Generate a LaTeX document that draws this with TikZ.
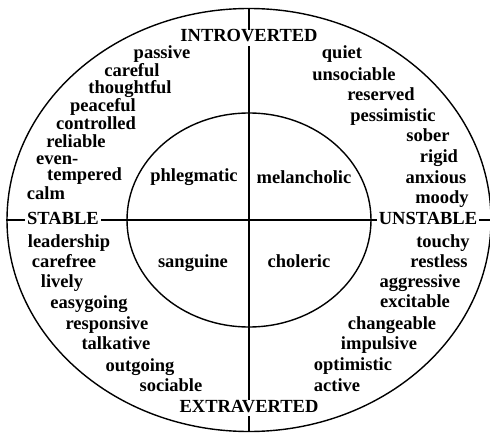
\documentclass[tikz,border=0pt]{standalone}
\usepackage{fontspec}
\setmainfont{Liberation Serif}
\usetikzlibrary{shapes.geometric}

\begin{document}
\begin{tikzpicture}[x=1pt, y=-1pt,
  ring/.style={draw, ellipse, line width=1.4pt, inner sep=0pt},
  word/.style={font=\fontsize{18.5}{20}\selectfont\bfseries,
    inner sep=0pt, text height=12pt, text depth=4pt},
  tight/.style={word, anchor=west, text height=10pt, text depth=3pt},
  pole/.style={word, fill=white, inner xsep=2pt},
  axis/.style={line width=1.4pt}
]
\useasboundingbox (0,0) rectangle (490,433);
% Rings and axes
\node[ring, minimum width=484pt, minimum height=423pt] (outer) at (249,220) {};
\node[ring, minimum width=244pt, minimum height=214pt] (inner) at (249,220) {};
\draw[axis] (outer.north) -- (outer.south);
\draw[axis] (outer.west)  -- (outer.east);
% Poles
\node[pole] (intro)    at (249,38)  {INTROVERTED};
\node[pole] (extra)    at (249,408) {EXTRAVERTED};
\node[pole] (stable)   at (63,220)  {STABLE};
\node[pole] (unstable) at (428,220) {UNSTABLE};
% Temperaments
\node[word] (phleg) at (194,178) {phlegmatic};
\node[word] (melan) at (304,179) {melancholic};
\node[word] (sangu) at (193,263) {sanguine};
\node[word] (chole) at (299,263) {choleric};
% Introverted / stable
\node[word] (passive)    at (162,55)  {passive};
\node[word] (careful)    at (132,73)  {careful};
\node[word] (thoughtful) at (130,90)  {thoughtful};
\node[word] (peaceful)   at (103,108) {peaceful};
\node[word] (controlled) at (96,126)  {controlled};
\node[word] (reliable)   at (76,143)  {reliable};
\node[tight] (even)      at (36,161)  {even-};
\node[tight] (tempered)  at (47,177)  {tempered};
\node[word] (calm)       at (46,196)  {calm};
% Introverted / unstable
\node[word] (quiet)       at (342,55)  {quiet};
\node[word] (unsociable)  at (354,77)  {unsociable};
\node[word] (reserved)    at (381,97)  {reserved};
\node[word] (pessimistic) at (393,118) {pessimistic};
\node[word] (sober)       at (428,138) {sober};
\node[word] (rigid)       at (439,158) {rigid};
\node[word] (anxious)     at (436,179) {anxious};
\node[word] (moody)       at (442,200) {moody};
% Extraverted / stable
\node[word] (leadership) at (69,243)  {leadership};
\node[word] (carefree)   at (64,263)  {carefree};
\node[word] (lively)     at (62,283)  {lively};
\node[word] (easygoing)  at (89,304)  {easygoing};
\node[word] (responsive) at (107,325) {responsive};
\node[word] (talkative)  at (116,345) {talkative};
\node[word] (outgoing)   at (140,367) {outgoing};
\node[word] (sociable)   at (171,387) {sociable};
% Extraverted / unstable
\node[word] (touchy)     at (443,243) {touchy};
\node[word] (restless)   at (439,263) {restless};
\node[word] (aggressive) at (420,283) {aggressive};
\node[word] (excitable)  at (415,303) {excitable};
\node[word] (changeable) at (392,325) {changeable};
\node[word] (impulsive)  at (379,345) {impulsive};
\node[word] (optimistic) at (353,366) {optimistic};
\node[word] (active)     at (337,387) {active};
\end{tikzpicture}
\end{document}
